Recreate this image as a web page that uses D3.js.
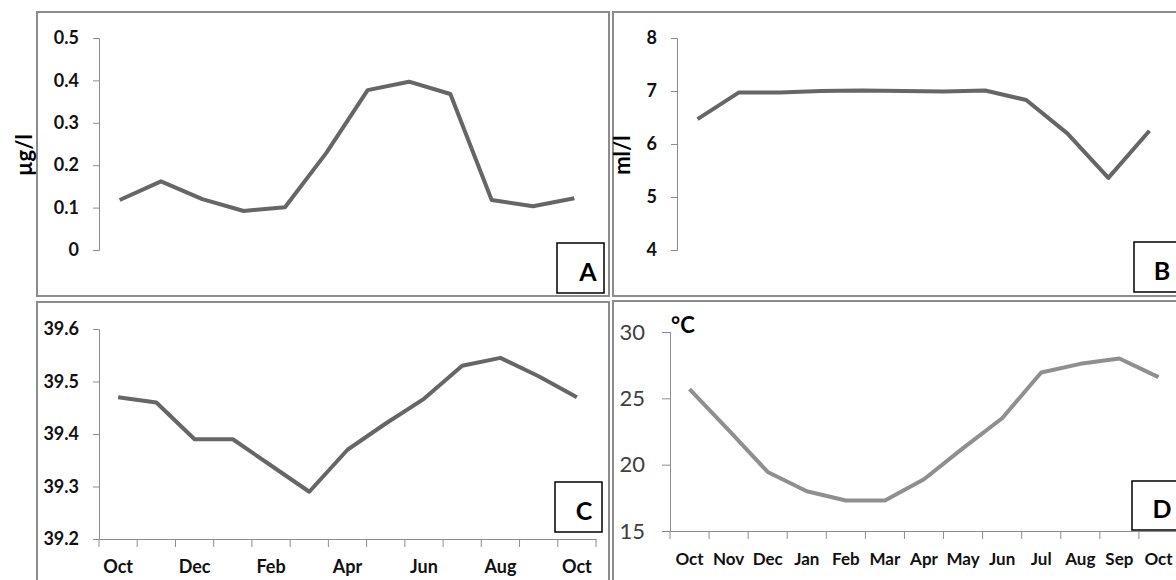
<!DOCTYPE html>
<html>
<head>
<meta charset="utf-8">
<script src="https://cdn.jsdelivr.net/npm/d3@7"></script>
<style>
  body { margin: 0; background: #fff; }
  svg { display: block; }
  svg text { font-family: Lato, "Open Sans", sans-serif; }
</style>
</head>
<body>
<svg id="chart" width="1176" height="580"></svg>
<script>
// months for the 12 point series (A, B) and the 13 point series (C, D)
var months12 = ["Oct", "Nov", "Dec", "Jan", "Feb", "Mar", "Apr", "May", "Jun", "Jul", "Aug", "Sep"];
var months13 = ["Oct", "Nov", "Dec", "Jan", "Feb", "Mar", "Apr", "May", "Jun", "Jul", "Aug", "Sep", "Oct"];

// panel A (µg/l)
var valuesA = [0.118, 0.162, 0.12, 0.092, 0.101, 0.229, 0.377, 0.397, 0.368, 0.118, 0.103, 0.122];
var ticksA = [0, 0.1, 0.2, 0.3, 0.4, 0.5];

// panel B (ml/l)
var valuesB = [6.47, 6.97, 6.97, 7.0, 7.01, 7.0, 6.99, 7.01, 6.83, 6.2, 5.36, 6.25];
var ticksB = [4, 5, 6, 7, 8];

// panel C
var valuesC = [39.47, 39.46, 39.39, 39.39, 39.34, 39.29, 39.37, 39.42, 39.467, 39.53, 39.545, 39.51, 39.47];
var ticksC = [39.2, 39.3, 39.4, 39.5, 39.6];
var labelsC = ["Oct", "", "Dec", "", "Feb", "", "Apr", "", "Jun", "", "Aug", "", "Oct"];

// panel D (°C)
var valuesD = [25.7, 22.6, 19.45, 18.0, 17.3, 17.3, 18.9, 21.25, 23.5, 26.95, 27.6, 28.0, 26.6];
var ticksD = [15, 20, 25, 30];

var svg = d3.select("#chart");
var FONT = "Lato, 'Open Sans', sans-serif";

function drawPanel(p) {
	var g = svg.append("g");

	// panel frame
	g.append("rect")
		.attr("x", p.frame[0]).attr("y", p.frame[1])
		.attr("width", p.frame[2]).attr("height", p.frame[3])
		.style("fill", "#fff")
		.style("stroke", "#8c8c8c")
		.style("stroke-width", 2);

	var x = d3.scaleBand()
		.domain(d3.range(p.values.length))
		.range(p.xRange);

	var y = d3.scaleLinear()
		.domain(p.yDomain)
		.range(p.yRange);

	// y axis
	var yAxis = g.append("g")
		.attr("transform", "translate(" + p.xRange[0] + ",0)")
		.call(d3.axisLeft(y)
			.tickValues(p.ticks)
			.tickSizeOuter(0)
			.tickSize(p.tickLen)
			.tickPadding(p.tickPad)
			.tickFormat(p.tickFormat));
	yAxis.attr("font-family", null);
	yAxis.select(".domain").style("stroke", "#8c8c8c");
	yAxis.selectAll(".tick line").style("stroke", "#8c8c8c");
	yAxis.selectAll(".tick text")
		.style("font-family", FONT)
		.style("font-size", p.yFont + "px")
		.style("font-weight", p.yBold ? "bold" : "normal")
		.style("fill", p.yBold ? "#111" : "#404040");

	// x axis (panels C and D only)
	if (p.xLabels) {
		var xAxis = g.append("g")
			.attr("transform", "translate(0," + p.yRange[0] + ")")
			.call(d3.axisBottom(x)
				.tickSize(0)
				.tickSizeOuter(0)
				.tickPadding(p.xPad)
				.tickFormat(function(i) { return p.xLabels[i]; }));
		xAxis.attr("font-family", null);
		xAxis.select(".domain").style("stroke", "#8c8c8c");
		xAxis.selectAll(".tick text")
			.style("font-family", FONT)
			.style("font-size", p.xFont + "px")
			.style("font-weight", "bold")
			.style("fill", "#111");

		// tick marks sit between the categories
		var bounds = x.domain().map(function(i) { return x(i); }).concat([x.range()[1]]);
		xAxis.selectAll(".bound")
			.data(bounds)
			.enter().append("line")
			.attr("class", "bound")
			.attr("x1", function(d) { return d; })
			.attr("x2", function(d) { return d; })
			.attr("y1", 0)
			.attr("y2", 8)
			.style("stroke", "#8c8c8c");
	}

	var line = d3.line()
		.x(function(d, i) { return x(i) + x.bandwidth() / 2; })
		.y(function(d) { return y(d); });

	g.append("path")
		.datum(p.values)
		.attr("d", line)
		.style("fill", "none")
		.style("stroke", p.color)
		.style("stroke-width", 4)
		.style("stroke-linejoin", "round");

	// unit title
	if (p.title) {
		g.append("text")
			.attr("transform", "translate(" + p.titlePos[0] + "," + p.titlePos[1] + ") rotate(" + p.titleRot + ")")
			.attr("text-anchor", p.titleRot ? "middle" : "start")
			.style("font-size", p.titleFont + "px")
			.style("font-weight", "bold")
			.style("fill", "#000")
			.text(p.title);
	}

	// letter box
	g.append("rect")
		.attr("x", p.box[0]).attr("y", p.box[1])
		.attr("width", p.box[2]).attr("height", p.box[3])
		.style("fill", "#fff")
		.style("stroke", "#000")
		.style("stroke-width", 1.5);
	g.append("text")
		.attr("x", p.letterPos[0])
		.attr("y", p.letterPos[1])
		.attr("text-anchor", "middle")
		.style("font-size", "25px")
		.style("font-weight", "bold")
		.text(p.letter);
}

drawPanel({
	values: valuesA, frame: [37, 12, 572, 284],
	xRange: [99, 595], yDomain: [0, 0.5], yRange: [250, 38],
	ticks: ticksA, tickLen: 6, tickPad: 14, yFont: 18, yBold: true,
	tickFormat: function(d) { return d === 0 ? "0" : d3.format(".1f")(d); },
	color: "#666",
	title: "µg/l", titlePos: [32, 155], titleRot: -90, titleFont: 22,
	box: [557, 243, 47, 50], letterPos: [588, 281], letter: "A"
});

drawPanel({
	values: valuesB, frame: [613, 12, 600, 284],
	xRange: [677, 1170], yDomain: [4, 8], yRange: [250, 38],
	ticks: ticksB, tickLen: 6, tickPad: 14, yFont: 18, yBold: true,
	tickFormat: d3.format("d"),
	color: "#666",
	title: "ml/l", titlePos: [630, 155], titleRot: -90, titleFont: 22,
	box: [1134, 242, 60, 50], letterPos: [1162, 280], letter: "B"
});

drawPanel({
	values: valuesC, frame: [37, 302, 572, 300],
	xRange: [99, 596], yDomain: [39.2, 39.6], yRange: [539, 329],
	ticks: ticksC, tickLen: 6, tickPad: 14, yFont: 18, yBold: true,
	tickFormat: d3.format(".1f"),
	xLabels: labelsC, xFont: 18, xPad: 21,
	color: "#666",
	box: [555, 482, 47, 50], letterPos: [584, 520], letter: "C"
});

drawPanel({
	values: valuesD, frame: [613, 301, 600, 300],
	xRange: [670, 1178], yDomain: [15, 30], yRange: [531, 332],
	ticks: ticksD, tickLen: 8, tickPad: 17, yFont: 22, yBold: false,
	tickFormat: d3.format("d"),
	xLabels: months13, xFont: 17, xPad: 22,
	color: "#8f8f8f",
	title: "°C", titlePos: [671, 333], titleRot: 0, titleFont: 22,
	box: [1132, 481, 60, 49], letterPos: [1162, 518], letter: "D"
});
</script>
</body>
</html>
